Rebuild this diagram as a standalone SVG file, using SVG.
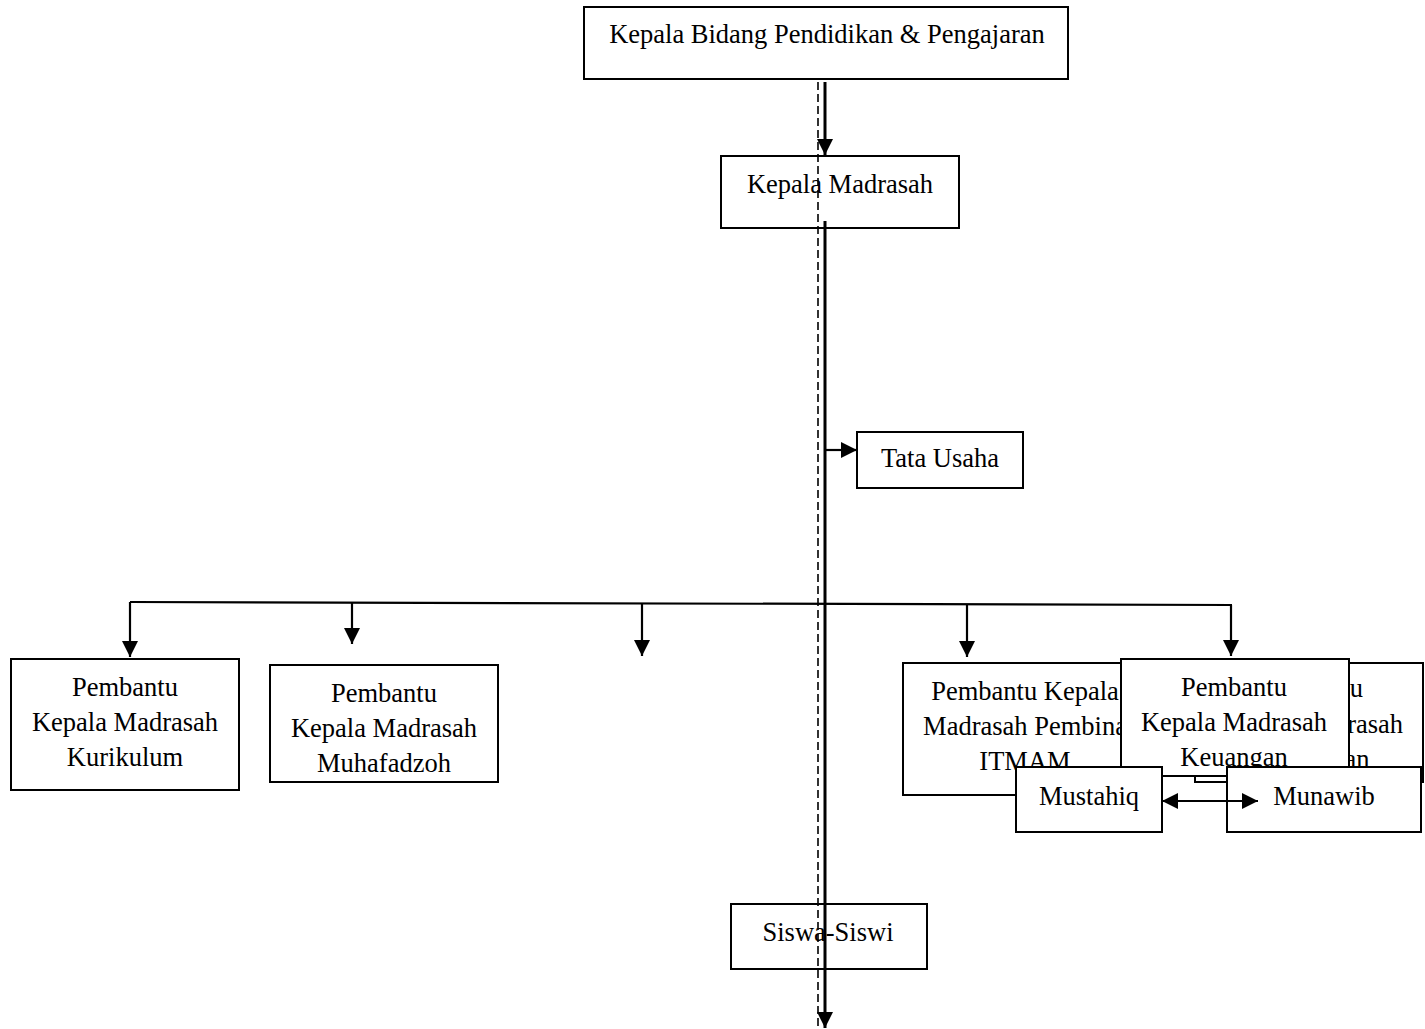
<svg xmlns="http://www.w3.org/2000/svg" width="1425" height="1029" viewBox="0 0 1425 1029">
<style>
.box{fill:#fff;stroke:#000;stroke-width:2}
.t{font-family:"Liberation Serif","Times New Roman",serif;font-size:26.5px;fill:#000;text-anchor:middle}
.ln{fill:none;stroke:#000;stroke-width:2.2}
.main{fill:none;stroke:#000;stroke-width:3}
.dash{fill:none;stroke:#000;stroke-width:1.6;stroke-dasharray:8 4}
</style>
<defs>
<marker id="ah" markerUnits="userSpaceOnUse" markerWidth="18" markerHeight="18" refX="16" refY="8" orient="auto-start-reverse" viewBox="0 0 18 18">
<path d="M0,0 L16,8 L0,16 z" fill="#000"/>
</marker>
</defs>
<rect width="1425" height="1029" fill="#fff"/>
<g id="nodes">
<g id="n-kabid"><rect class="box" x="584" y="7" width="484" height="72"/><text class="t" x="827" y="43">Kepala Bidang Pendidikan &amp; Pengajaran</text></g>
<g id="n-kamad"><rect class="box" x="721" y="156" width="238" height="72"/><text class="t" x="840" y="193">Kepala Madrasah</text></g>
<g id="n-tu"><rect class="box" x="857" y="432" width="166" height="56"/><text class="t" x="940" y="467">Tata Usaha</text></g>
<g id="n-kurikulum"><rect class="box" x="11" y="659" width="228" height="131"/><text class="t" x="125" y="696">Pembantu</text><text class="t" x="125" y="731">Kepala Madrasah</text><text class="t" x="125" y="766">Kurikulum</text></g>
<g id="n-muhafadzoh"><rect class="box" x="270" y="665" width="228" height="117"/><text class="t" x="384" y="702">Pembantu</text><text class="t" x="384" y="737">Kepala Madrasah</text><text class="t" x="384" y="772">Muhafadzoh</text></g>
<g id="n-itmam"><rect class="box" x="903" y="663" width="244" height="132"/><text class="t" x="1025" y="700">Pembantu Kepala</text><text class="t" x="1025" y="735">Madrasah Pembina</text><text class="t" x="1025" y="770">ITMAM</text></g>
<g id="n-kesiswaan"><rect class="box" x="1195" y="663" width="228" height="119"/><text class="t" x="1310" y="697">Pembantu</text><text class="t" x="1310" y="733">Kepala Madrasah</text><text class="t" x="1312" y="768">Kesiswaan</text></g>
<g id="n-keuangan"><rect class="box" x="1121" y="659" width="228" height="117"/><text class="t" x="1234" y="696">Pembantu</text><text class="t" x="1234" y="731">Kepala Madrasah</text><text class="t" x="1234" y="766">Keuangan</text></g>
<g id="n-mustahiq"><rect class="box" x="1016" y="767" width="146" height="65"/><text class="t" x="1089" y="805">Mustahiq</text></g>
<g id="n-munawib"><rect class="box" x="1227" y="767" width="194" height="65"/><text class="t" x="1324" y="805">Munawib</text></g>
<g id="n-siswa"><rect class="box" x="731" y="904" width="196" height="65"/><text class="t" x="828" y="941">Siswa-Siswi</text></g>
</g>
<g id="connectors">
<line class="dash" x1="818" y1="82" x2="818" y2="1029"/>
<line class="main" x1="825" y1="82" x2="825" y2="155" marker-end="url(#ah)"/>
<line class="main" x1="825" y1="221" x2="825" y2="1028" marker-end="url(#ah)"/>
<line class="ln" x1="825" y1="450" x2="857" y2="450" marker-end="url(#ah)"/>
<line class="ln" x1="130" y1="602" x2="1232" y2="605"/>
<line class="ln" x1="130" y1="602" x2="130" y2="657" marker-end="url(#ah)"/>
<line class="ln" x1="352" y1="603" x2="352" y2="644" marker-end="url(#ah)"/>
<line class="ln" x1="642" y1="603" x2="642" y2="656" marker-end="url(#ah)"/>
<line class="ln" x1="967" y1="604" x2="967" y2="657" marker-end="url(#ah)"/>
<line class="ln" x1="1231" y1="605" x2="1231" y2="656" marker-end="url(#ah)"/>
<line class="ln" x1="1162" y1="801" x2="1258" y2="801" marker-start="url(#ah)" marker-end="url(#ah)"/>
</g>
</svg>
